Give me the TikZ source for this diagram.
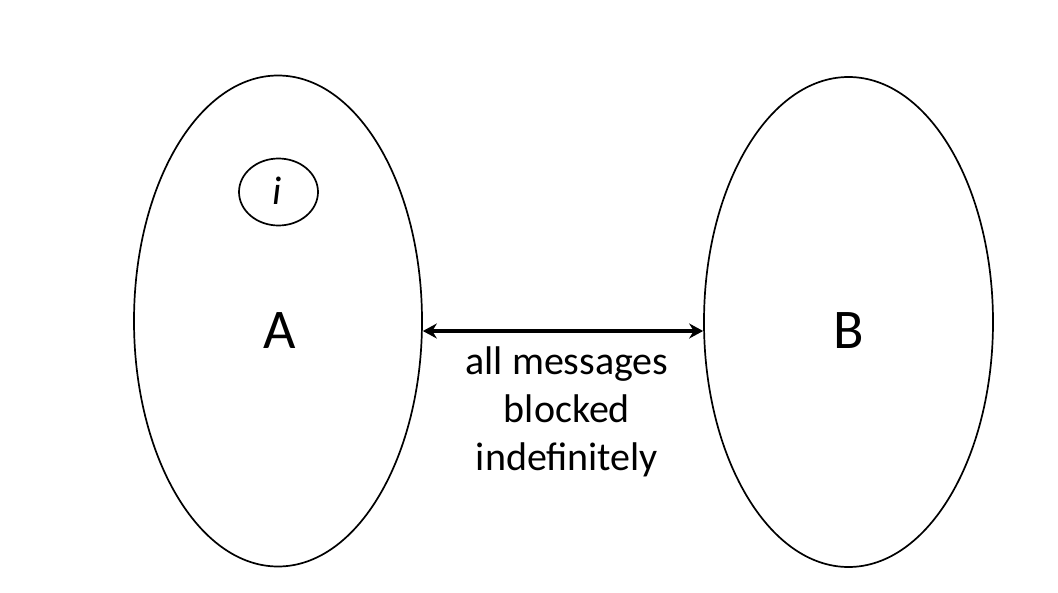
\documentclass[tikz,border=0pt]{standalone}
\usepackage{fontspec}
\setmainfont{Carlito}
\usetikzlibrary{shapes.geometric,arrows.meta}
\tikzset{
  region/.style={draw,ellipse,line width=1.7pt,inner sep=0pt},
  bigletter/.style={font=\fontsize{56}{60}\selectfont},
}
\begin{document}
\begin{tikzpicture}[x=1pt,y=-1pt]
    \useasboundingbox (0,0) rectangle (1058,592);
    %% region A
    \node[region,minimum width=288pt,minimum height=491pt] (A) at (278,321) {};
    \node[bigletter] (labA) at (279.5,331) {A};
    %% process i
    \node[region,minimum width=79pt,minimum height=67pt] (i) at (278.5,192) {};
    \node[font=\fontsize{40}{44}\selectfont\itshape] (labi) at (277,191) {i};
    %% region B
    \node[region,minimum width=289pt,minimum height=490pt] (B) at (848.5,322) {};
    \node[bigletter] (labB) at (849,331) {B};
    %% blocked link
    \coordinate (link) at (563,331);
    \draw[line width=4pt,{Stealth[length=14pt,width=15pt]}-{Stealth[length=14pt,width=15pt]}]
        (link -| A.east) -- (link -| B.west);
    \node[align=center,font=\fontsize{40}{48}\selectfont] (msg) at (567,412)
        {all messages\\blocked\\indefinitely};
\end{tikzpicture}
\end{document}
